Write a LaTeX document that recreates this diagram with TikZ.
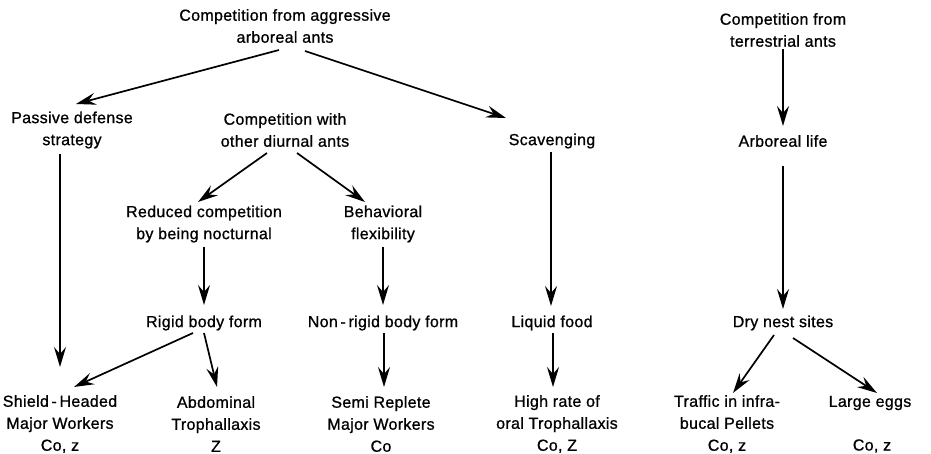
\documentclass[tikz,border=0pt]{standalone}
\usepackage{fontspec}
\setmainfont[LetterSpace=2,FakeBold=0.9]{Liberation Sans}
\usetikzlibrary{arrows.meta,calc}
\begin{document}
\begin{tikzpicture}[x=1pt,y=-1pt,
  lbl/.style={align=center,inner sep=0pt,font=\fontsize{16pt}{22pt}\selectfont},
  arr/.style={line width=1.7pt,-{Stealth[length=20pt,width=12pt,inset=7pt]}}]
\useasboundingbox (0,0) rectangle (931,454);
% nodes
\node[lbl] (top) at (285,26) {Competition from aggressive\\arboreal ants};
\node[lbl] (pass) at (72,130) {Passive defense\\strategy};
\node[lbl] (cwith) at (285,130) {Competition with\\other diurnal ants};
\node[lbl] (scav) at (552,141) {Scavenging};
\node[lbl] (terr) at (783,30) {Competition from\\terrestrial ants};
\node[lbl] (arb) at (783,141) {Arboreal life};
\node[lbl] (red) at (204,224) {Reduced competition\\by being nocturnal};
\node[lbl] (beh) at (383,224) {Behavioral\\flexibility};
\node[lbl] (rigid) at (204,323) {Rigid body form};
\node[lbl] (nonrig) at (383,323) {Non\,-\,rigid body form};
\node[lbl] (liq) at (552,323) {Liquid food};
\node[lbl] (dry) at (783,323) {Dry nest sites};
\node[lbl] (shield) at (60,424) {Shield\,-\,Headed\\Major Workers\\Co, z};
\node[lbl] (abd) at (216,424) {Abdominal\\Trophallaxis\\Z};
\node[lbl] (semi) at (381,424) {Semi Replete\\Major Workers\\Co};
\node[lbl] (high) at (557,424) {High rate of\\oral Trophallaxis\\Co, Z};
\node[lbl] (traf) at (727,424) {Traffic in infra-\\bucal Pellets\\Co, z};
\node[lbl] (large) at (870,403) {Large eggs};
\node[lbl] (lco) at (872,446) {Co, z};
% connectors
\draw[arr] ($(top)+(-6,24)$) -- ($(pass)+(4,-26)$);
\draw[arr] ($(top)+(20,25)$) -- ($(scav)+(-46,-23)$);
\draw[arr] ($(pass)+(-12,24)$) -- ($(shield)+(0,-57)$);
\draw[arr] ($(cwith)+(-18,23)$) -- ($(red)+(-6,-22)$);
\draw[arr] ($(cwith)+(12,23)$) -- ($(beh)+(-18,-22)$);
\draw[arr] ($(red)+(0,23)$) -- ($(rigid)+(0,-18)$);
\draw[arr] ($(beh)+(0,23)$) -- ($(nonrig)+(0,-18)$);
\draw[arr] ($(rigid)+(-11,10)$) -- ($(shield)+(14,-37)$);
\draw[arr] ($(rigid)+(0,10)$) -- ($(abd)+(1,-37)$);
\draw[arr] ($(nonrig)+(1,10)$) -- ($(semi)+(3,-37)$);
\draw[arr] ($(scav)+(-1,11)$) -- ($(liq)+(-1,-17)$);
\draw[arr] ($(liq)+(1,10)$) -- ($(high)+(-4,-37)$);
\draw[arr] ($(terr)+(0,19)$) -- ($(arb)+(0,-15)$);
\draw[arr] ($(arb)+(0,25)$) -- ($(dry)+(0,-14)$);
\draw[arr] ($(dry)+(-9,12)$) -- ($(traf)+(6,-31)$);
\draw[arr] ($(dry)+(10,15)$) -- ($(large)+(7,-10)$);
\end{tikzpicture}
\end{document}
